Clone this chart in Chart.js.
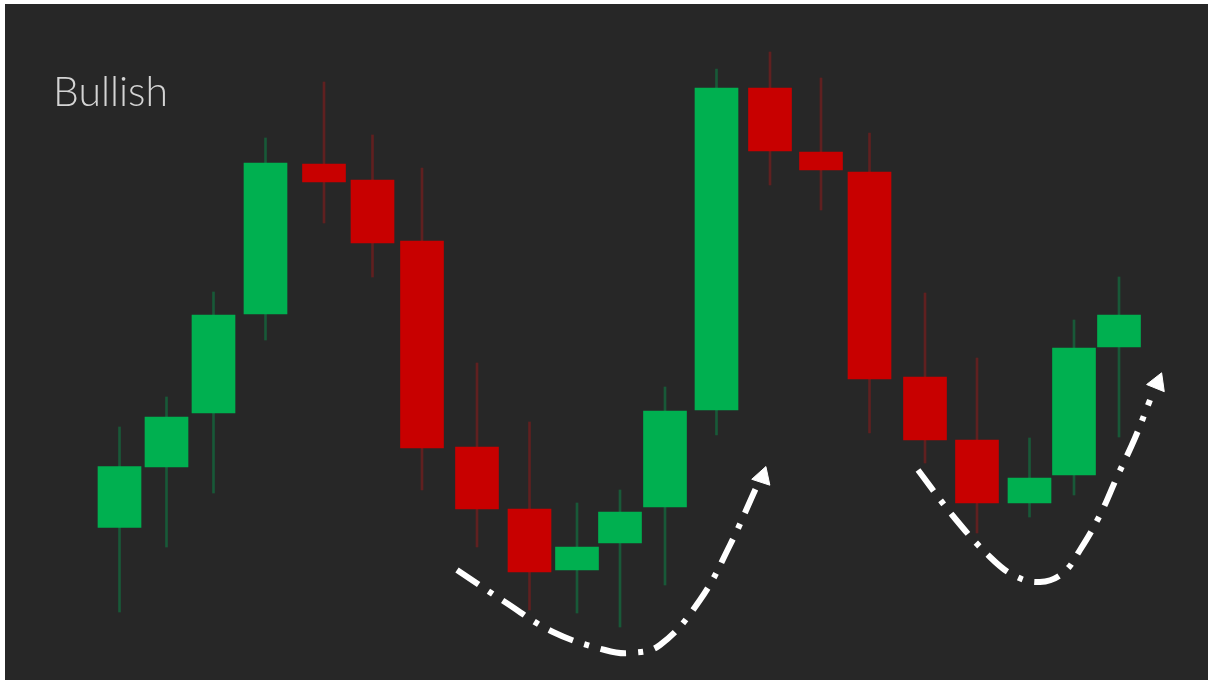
<!DOCTYPE html>
<html>
<head>
<meta charset="utf-8">
<script src="https://cdn.jsdelivr.net/npm/chart.js@4/dist/chart.umd.min.js"></script>
<style>
  html, body { margin: 0; padding: 0; background: #ffffff; }
  #wrap {
    position: absolute; left: 0; top: 0;
    width: 1208px; height: 680px;
    box-sizing: border-box;
    border-top: 4px solid #ffffff;
    border-left: 5px solid #ffffff;
    background: #272727;
  }
</style>
</head>
<body>
<div id="wrap"><canvas id="candles"></canvas></div>
<script>
// session positions (time units) and OHLC prices
const times = [20, 29.4, 38.8, 49.2, 60.9, 70.6, 80.5, 91.5, 102, 111.5, 120.1,
               129.1, 139.4, 150.1, 160.3, 170, 181.1, 191.5, 202, 210.9, 219.9];
const open  = [30.5, 42.6, 53.4, 73.2, 103.2, 100.0, 87.8, 46.6, 34.2, 22.0, 27.4,
               34.6, 54.0, 118.4, 105.6, 101.6, 60.6, 48.0, 35.4, 41.0, 66.6];
const close = [42.7, 52.6, 73.0, 103.4, 99.6, 87.4, 46.4, 34.2, 21.6, 26.6, 33.6,
               53.8, 118.4, 105.8, 102.0, 60.2, 48.0, 35.4, 40.4, 66.4, 73.0];
const high  = [50.6, 56.6, 77.6, 108.4, 119.6, 109.0, 102.4, 63.4, 51.6, 35.4, 38.0,
               58.6, 122.2, 125.6, 120.4, 109.4, 77.4, 64.4, 48.4, 72.0, 80.6];
const low   = [13.6, 26.6, 37.4, 68.0, 91.4, 80.6, 38.0, 26.6, 14.0, 13.4, 10.6,
               19.0, 49.0, 99.0, 94.0, 49.4, 43.4, 29.4, 32.6, 37.0, 48.6];

// dash-dot guide curves under the two dips
const curve1X = [87.5, 97.1, 106.7, 117.1, 122.1, 128.1, 136.1, 142.1, 147.3];
const curve1Y = [22.0, 15.6, 9.6, 6.0, 5.4, 7.0, 16.0, 27.0, 38.4];
const curve2X = [179.7, 186.7, 194.1, 199.1, 204.1, 208.7, 212.1, 216.1, 219.5, 223.1, 226.1];
const curve2Y = [42.0, 32.8, 24.6, 20.8, 19.6, 21.4, 26.0, 33.0, 40.6, 48.4, 56.0];
const arrowX = [148.6, 227.6];
const arrowY = [40.6, 59.4];
const arrowRot = [18, 22];

const GREEN = "#00b050";
const RED = "#c80000";
const up = open.map((o, i) => close[i] >= o);

const pts = (xs, ys) => xs.map((x, i) => ({ x: x, y: ys[i] }));

const titlePlugin = {
  id: "titleText",
  afterDraw(chart) {
    const ctx = chart.ctx;
    ctx.save();
    ctx.fillStyle = "#d4d4d4";
    ctx.font = "300 42px Lato, 'Open Sans', sans-serif";
    ctx.textBaseline = "alphabetic";
    ctx.fillText("Bullish", 48, 102, 115);
    ctx.restore();
  },
};

new Chart(document.getElementById("candles").getContext("2d"), {
  type: "bar",
  data: {
    datasets: [
      {
        label: "wick",
        data: times.map((t, i) => ({ x: t, y: [low[i], high[i]] })),
        backgroundColor: up.map((u) => (u ? "rgba(0,170,85,0.38)" : "rgba(190,20,20,0.38)")),
        barThickness: 2,
        grouped: false,
        order: 3,
      },
      {
        label: "body",
        data: times.map((t, i) => ({ x: t, y: [open[i], close[i]] })),
        backgroundColor: up.map((u) => (u ? GREEN : RED)),
        barThickness: 43,
        grouped: false,
        order: 2,
      },
      {
        type: "line",
        label: "dip 1",
        data: pts(curve1X, curve1Y),
        borderColor: "#ffffff",
        borderWidth: 6,
        borderDash: [26, 12, 5, 12],
        tension: 0.4,
        pointRadius: 0,
        order: 1,
      },
      {
        type: "line",
        label: "dip 2",
        data: pts(curve2X, curve2Y),
        borderColor: "#ffffff",
        borderWidth: 6,
        borderDash: [26, 12, 5, 12],
        tension: 0.4,
        pointRadius: 0,
        order: 1,
      },
      {
        type: "scatter",
        label: "arrows",
        data: pts(arrowX, arrowY),
        pointStyle: "triangle",
        pointRadius: 11,
        rotation: arrowRot,
        backgroundColor: "#ffffff",
        borderColor: "#ffffff",
        borderWidth: 1,
        order: 0,
      },
    ],
  },
  options: {
    responsive: true,
    maintainAspectRatio: false,
    animation: false,
    layout: { padding: 0, autoPadding: false },
    plugins: {
      legend: { display: false },
      tooltip: { enabled: false },
    },
    scales: {
      x: {
        type: "linear",
        display: false,
        offset: false,
        min: -2.9,
        max: 237.7,
      },
      y: {
        display: false,
        min: 0,
        max: 135.2,
      },
    },
  },
  plugins: [titlePlugin],
});
</script>
</body>
</html>
